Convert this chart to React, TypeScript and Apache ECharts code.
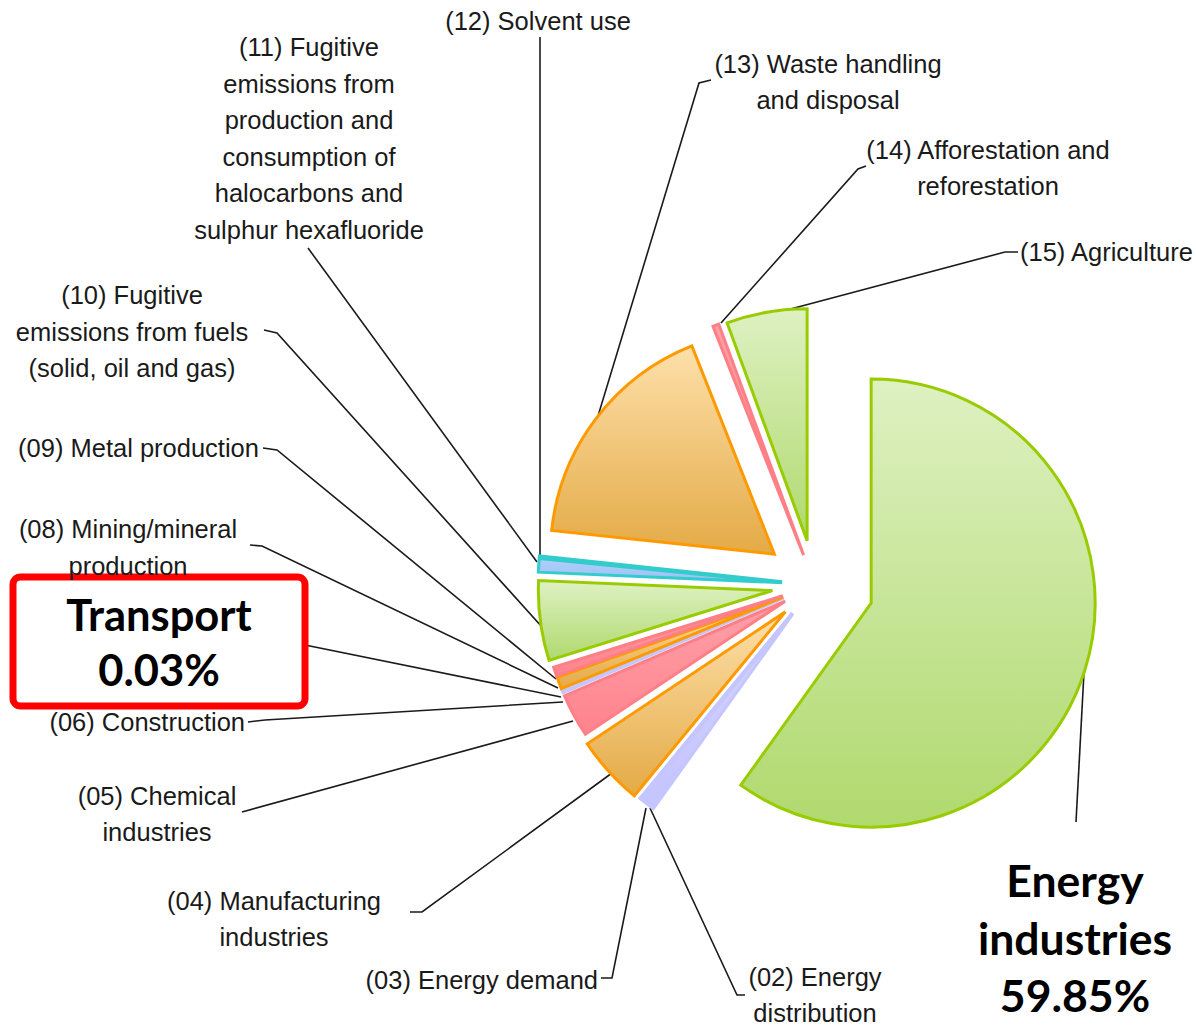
import React, { useEffect, useRef } from "react";
import * as echarts from "echarts";

// ---- data ----
const sectorNames = [
  "(01) Energy industries",
  "(02) Energy distribution",
  "(03) Energy demand",
  "(04) Manufacturing industries",
  "(05) Chemical industries",
  "(06) Construction",
  "(07) Transport",
  "(08) Mining/mineral production",
  "(09) Metal production",
  "(10) Fugitive emissions from fuels (solid, oil and gas)",
  "(11) Fugitive emissions from production and consumption of halocarbons and sulphur hexafluoride",
  "(12) Solvent use",
  "(13) Waste handling and disposal",
  "(14) Afforestation and reforestation",
  "(15) Agriculture",
];
const shares = [59.85, 1.0, 0.05, 4.7, 2.9, 0.2, 0.03, 0.8, 0.6, 5.5, 0.9, 0.1, 17.3, 0.4, 5.6];
const labelTexts = [
  `Energy\nindustries\n${shares[0].toFixed(2)}%`,
  "(02) Energy\ndistribution",
  "(03) Energy demand",
  "(04) Manufacturing\nindustries",
  "(05) Chemical\nindustries",
  "(06) Construction",
  `Transport\n${shares[6].toFixed(2)}%`,
  "(08) Mining/mineral\nproduction",
  "(09) Metal production",
  "(10) Fugitive\nemissions from fuels\n(solid, oil and gas)",
  "(11) Fugitive\nemissions from\nproduction and\nconsumption of\nhalocarbons and\nsulphur hexafluoride",
  "(12) Solvent use",
  "(13) Waste handling\nand disposal",
  "(14) Afforestation and\nreforestation",
  "(15) Agriculture",
];
const colorKinds = [
  "green", "lavender", "lavender", "orange", "pink", "lavender", "lavender", "orange",
  "pink", "green", "cyan", "cyan", "orange", "pink", "green",
];

// ---- layout / style ----
const BASE_CENTER = [815, 585];
const explode = [59, 36, 36, 40, 34, 34, 34, 34, 34, 43, 33, 33, 51, 32, 45];
const radii = [224, 240, 240, 238, 240, 240, 240, 240, 240, 234, 244, 244, 224, 246, 232];

type LP = { x: number; y: number; align: string; line: number[][] };
const labelPlacement: LP[] = [
  { x: 1075, y: 937, align: "center", line: [[1084, 672], [1076, 822]] },
  { x: 815, y: 995, align: "center", line: [[650, 808], [737, 995], [745, 995]] },
  { x: 598, y: 980, align: "right", line: [[646, 808], [612, 978], [601, 978]] },
  { x: 274, y: 919, align: "center", line: [[612, 773], [422, 912], [410, 912]] },
  { x: 157, y: 814, align: "center", line: [[573, 721], [242, 812]] },
  { x: 245, y: 722, align: "right", line: [[563, 702], [265, 720], [248, 722]] },
  { x: 159, y: 641.5, align: "center", line: [[561, 697], [305, 645]] },
  { x: 128, y: 547.5, align: "center", line: [[558, 688], [262, 546], [250, 545]] },
  { x: 259, y: 448, align: "right", line: [[556, 679], [277, 450], [263, 448]] },
  { x: 132, y: 331.5, align: "center", line: [[542, 627], [277, 333], [264, 330]] },
  { x: 309, y: 138.5, align: "center", line: [[537, 562], [308, 248]] },
  { x: 538, y: 21, align: "center", line: [[540, 560], [540, 37]] },
  { x: 828, y: 82, align: "center", line: [[598, 416], [699, 83], [711, 80]] },
  { x: 988, y: 168, align: "center", line: [[721, 323], [858, 169], [866, 166]] },
  { x: 1020, y: 252, align: "left", line: [[768, 315], [1005, 252], [1018, 252]] },
];

const palette: Record<string, { top: string; bottom: string; border: string }> = {
  green: { top: "#def1c2", bottom: "#b0d96e", border: "#99cc00" },
  orange: { top: "#fde0aa", bottom: "#e4aa46", border: "#ff9900" },
  pink: { top: "#ffa0a8", bottom: "#ff838e", border: "#ff7f86" },
  lavender: { top: "#d4d4ff", bottom: "#c4c4ff", border: "#c6c6ff" },
  cyan: { top: "#b0d0fa", bottom: "#9cc0f4", border: "#33cccc" },
};

const normalLabel = {
  fontFamily: "'Liberation Sans', Arial, sans-serif",
  fontSize: 25.5,
  lineHeight: 36.5,
  color: "#1a1a1a",
};
const boldLabel = {
  fontFamily: "Lato, 'Open Sans', sans-serif",
  fontWeight: "bold",
  fontSize: 44.5,
  lineHeight: 57.5,
  color: "#000",
};

function buildOption() {
  const total = shares.reduce((a, b) => a + b, 0);
  let acc = 0;
  const mids = shares.map((v) => {
    const m = ((acc + v / 2) / total) * 360;
    acc += v;
    return m;
  });

  const series = shares.map((_, i) => {
    const rad = (mids[i] * Math.PI) / 180;
    const cx = BASE_CENTER[0] + explode[i] * Math.sin(rad);
    const cy = BASE_CENTER[1] - explode[i] * Math.cos(rad);
    const pal = palette[colorKinds[i]];
    let labelStyle: any = { ...normalLabel };
    if (i === 0) labelStyle = { ...boldLabel };
    if (i === 6) {
      labelStyle = {
        ...boldLabel,
        fontSize: 43.5,
        lineHeight: 55,
        width: 285,
        padding: [6, 0],
        backgroundColor: "#ffffff",
        borderColor: "#ff0000",
        borderWidth: 7,
        borderRadius: 4,
      };
    }
    const pl = labelPlacement[i];
    return {
      type: "pie",
      silent: true,
      center: [cx, cy],
      radius: [0, radii[i]],
      startAngle: 90,
      clockwise: true,
      avoidLabelOverlap: false,
      emphasis: { disabled: true },
      data: shares.map((v, j) =>
        j === i
          ? {
              name: sectorNames[j],
              value: v,
              itemStyle: {
                color: {
                  type: "linear",
                  x: 0,
                  y: 0,
                  x2: 0,
                  y2: 1,
                  colorStops: [
                    { offset: 0, color: pal.top },
                    { offset: 1, color: pal.bottom },
                  ],
                },
                borderColor: pal.border,
                borderWidth: 3,
                borderJoin: "miter",
              },
              label: {
                show: true,
                position: "outside",
                overflow: "none",
                formatter: () => labelTexts[j],
                ...labelStyle,
              },
              labelLine: {
                show: true,
                smooth: false,
                lineStyle: { color: "#1a1a1a", width: 1.6 },
              },
            }
          : {
              name: sectorNames[j],
              value: v,
              itemStyle: { color: "rgba(0,0,0,0)", borderWidth: 0 },
              label: { show: false },
              labelLine: { show: false },
            }
      ),
      labelLayout: () => ({
        x: pl.x,
        y: pl.y,
        align: pl.align,
        verticalAlign: "middle",
        labelLinePoints: pl.line,
      }),
    };
  });

  return {
    animation: false,
    backgroundColor: "#ffffff",
    series,
  };
}

export default function App() {
  const ref = useRef<HTMLDivElement>(null);
  useEffect(() => {
    if (!ref.current) return;
    const chart = echarts.init(ref.current, undefined, { renderer: "svg" });
    chart.setOption(buildOption() as any);
    return () => chart.dispose();
  }, []);
  return (
    <div
      ref={ref}
      style={{ position: "fixed", left: 0, top: 0, width: 1196, height: 1029, background: "#fff" }}
    />
  );
}
